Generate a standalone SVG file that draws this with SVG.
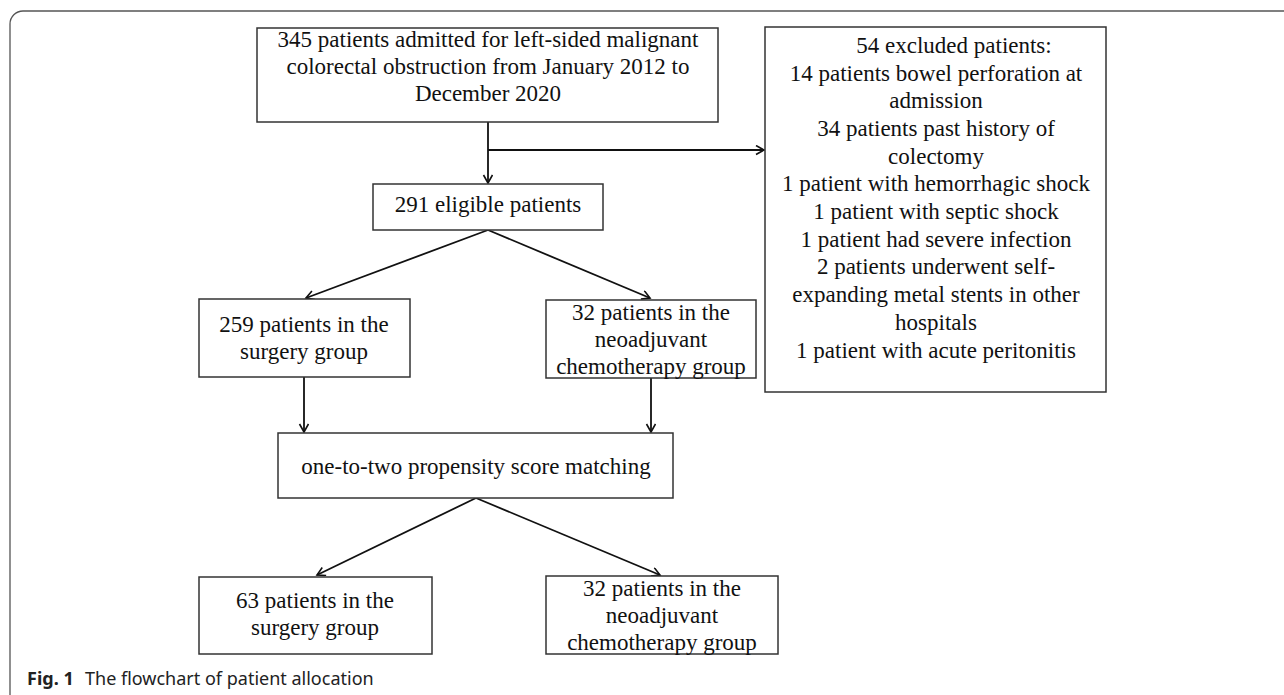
<svg xmlns="http://www.w3.org/2000/svg" width="1284" height="695" viewBox="0 0 1284 695">
<style>
.box{fill:#fff;stroke:#333;stroke-width:1.5}
.t{font-family:"Liberation Serif","Times New Roman",serif;font-size:23px;fill:#111;text-anchor:middle}
.c{stroke:#111;stroke-width:1.8;fill:none;marker-end:url(#ah)}
.cap{font-family:"Noto Sans","Open Sans",sans-serif;font-size:18px;fill:#222}
</style>
<defs>
<marker id="ah" markerWidth="12" markerHeight="12" refX="9" refY="5" orient="auto" markerUnits="userSpaceOnUse">
<path d="M1,0.5 L9,5 L1,9.5" fill="none" stroke="#111" stroke-width="1.6"/>
</marker>
</defs>
<rect x="10" y="11" width="1300" height="700" rx="13" fill="none" stroke="#555" stroke-width="1.3"/>
<g id="connectors">
<path class="c" d="M488,122 V183"/>
<path class="c" d="M488,150 H764"/>
<path class="c" d="M488,230 L306,298"/>
<path class="c" d="M488,230 L650,298"/>
<path class="c" d="M304,377 V432"/>
<path class="c" d="M651,378 V432"/>
<path class="c" d="M476,498 L317,575"/>
<path class="c" d="M476,498 L660,575"/>
</g>
<g id="n_admitted">
<rect class="box" x="257" y="28" width="461" height="94"/>
<text class="t" x="488" y="47">345 patients admitted for left-sided malignant</text>
<text class="t" x="488" y="74">colorectal obstruction from January 2012 to</text>
<text class="t" x="488" y="101">December 2020</text>
</g>
<g id="n_excluded">
<rect class="box" x="765" y="27" width="341" height="365"/>
<text class="t" x="954" y="53">54 excluded patients:</text>
<text class="t" x="936" y="81">14 patients bowel perforation at</text>
<text class="t" x="936" y="108">admission</text>
<text class="t" x="936" y="136">34 patients past history of</text>
<text class="t" x="936" y="164">colectomy</text>
<text class="t" x="936" y="191">1 patient with hemorrhagic shock</text>
<text class="t" x="936" y="219">1 patient with septic shock</text>
<text class="t" x="936" y="247">1 patient had severe infection</text>
<text class="t" x="936" y="274">2 patients underwent self-</text>
<text class="t" x="936" y="302">expanding metal stents in other</text>
<text class="t" x="936" y="330">hospitals</text>
<text class="t" x="936" y="358">1 patient with acute peritonitis</text>
</g>
<g id="n_eligible">
<rect class="box" x="373" y="184" width="230" height="46"/>
<text class="t" x="488" y="212">291 eligible patients</text>
</g>
<g id="n_surgery1">
<rect class="box" x="199" y="299" width="211" height="78"/>
<text class="t" x="304" y="332">259 patients in the</text>
<text class="t" x="304" y="359">surgery group</text>
</g>
<g id="n_neo1">
<rect class="box" x="546" y="300" width="210" height="78"/>
<text class="t" x="651" y="320">32 patients in the</text>
<text class="t" x="651" y="347">neoadjuvant</text>
<text class="t" x="651" y="374">chemotherapy group</text>
</g>
<g id="n_psm">
<rect class="box" x="278" y="433" width="395" height="65"/>
<text class="t" x="476" y="474">one-to-two propensity score matching</text>
</g>
<g id="n_surgery2">
<rect class="box" x="199" y="577" width="233" height="77"/>
<text class="t" x="315" y="608">63 patients in the</text>
<text class="t" x="315" y="635">surgery group</text>
</g>
<g id="n_neo2">
<rect class="box" x="546" y="576" width="232" height="78"/>
<text class="t" x="662" y="596">32 patients in the</text>
<text class="t" x="662" y="623">neoadjuvant</text>
<text class="t" x="662" y="650">chemotherapy group</text>
</g>
<text class="cap" x="27" y="685"><tspan font-weight="bold">Fig. 1</tspan><tspan x="85">The flowchart of patient allocation</tspan></text>
</svg>
